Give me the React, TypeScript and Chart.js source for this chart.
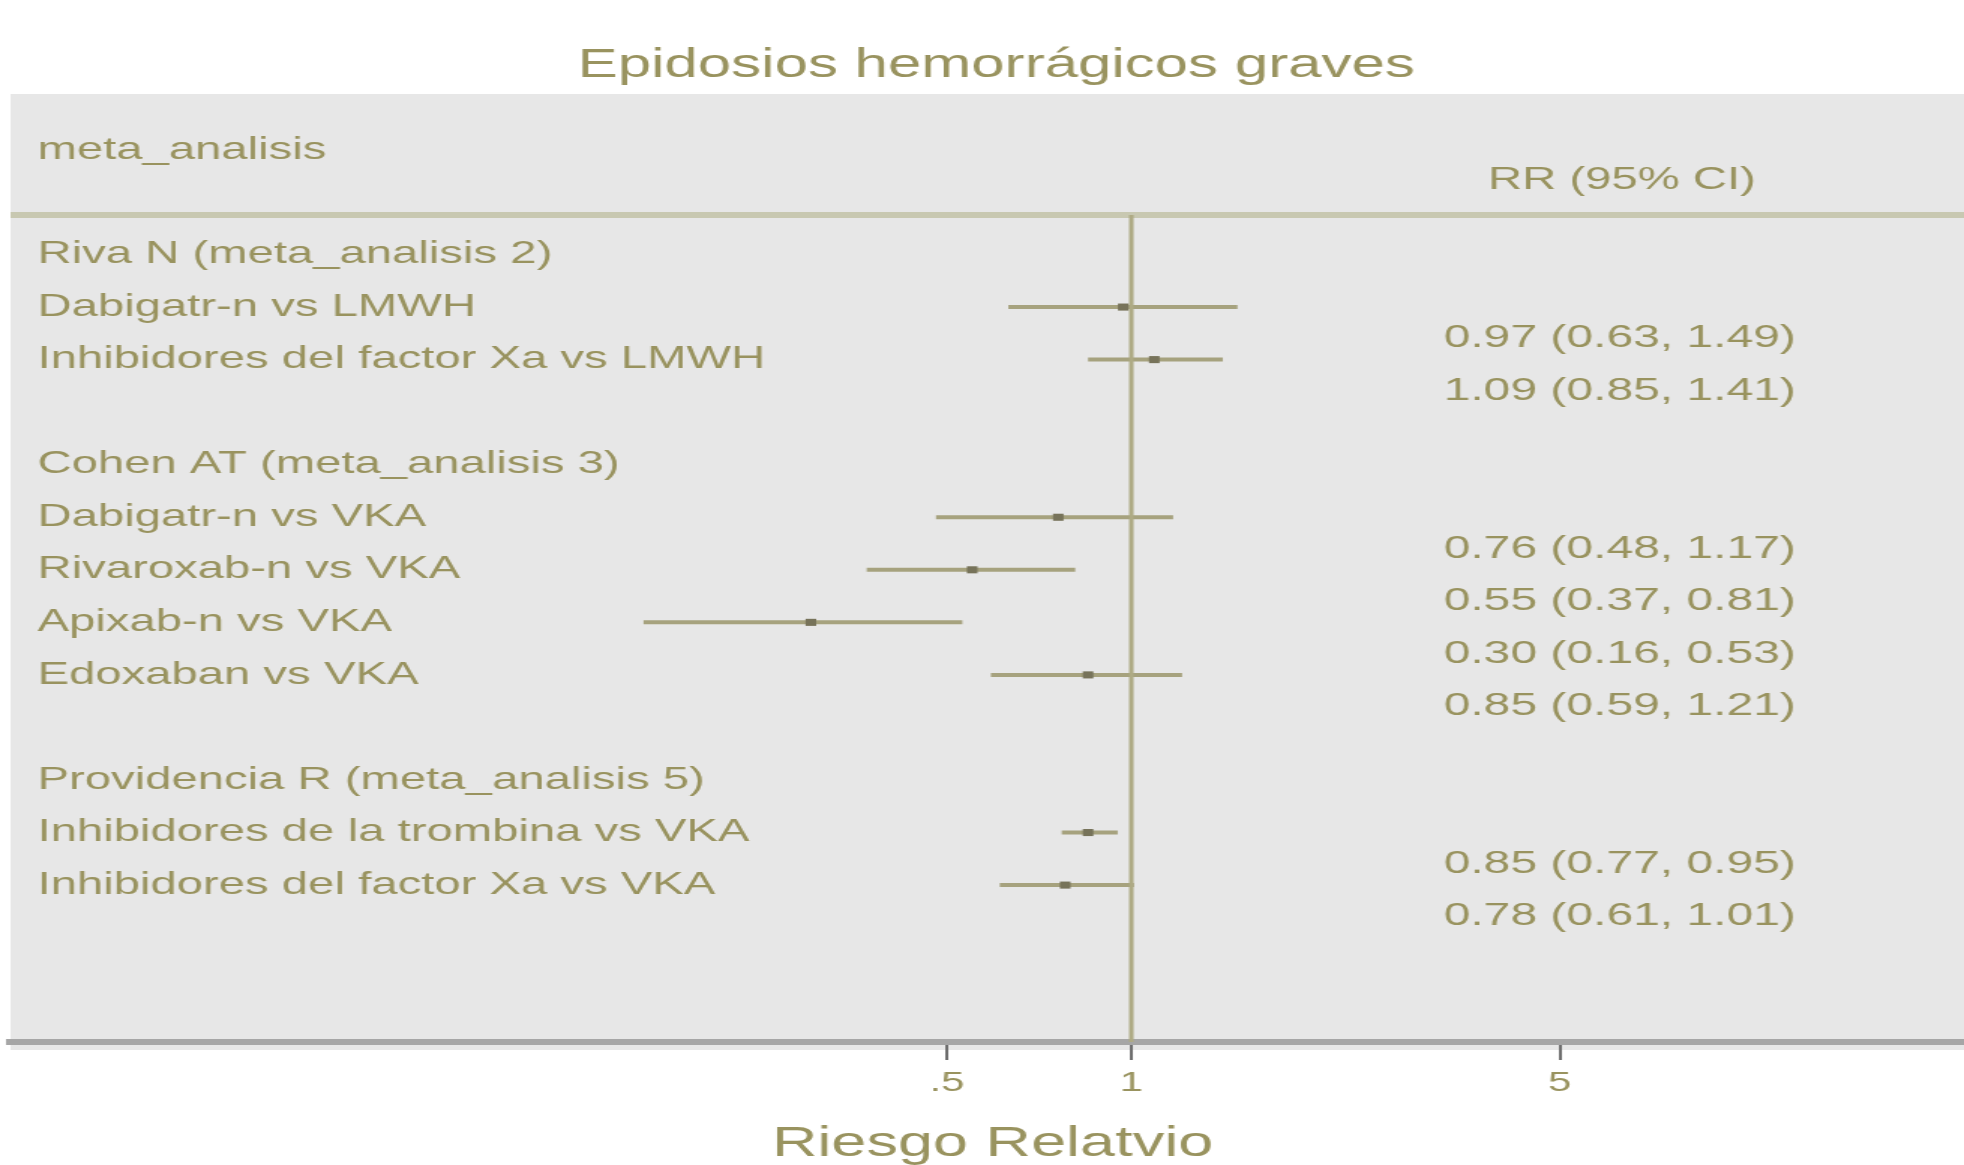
import React, { useEffect, useRef } from 'react';
import { Chart, registerables } from 'chart.js';

Chart.register(...registerables);

// ---------------- data ----------------
const TITLE = 'Epidosios hemorrágicos graves';
const X_TITLE = 'Riesgo Relatvio';
const COL_HEAD_LEFT = 'meta_analisis';
const COL_HEAD_RIGHT = 'RR (95% CI)';

const ROW_LABELS = [
  'Riva N (meta_analisis 2)',
  'Dabigatr-n vs LMWH',
  'Inhibidores del factor Xa vs LMWH',
  '',
  'Cohen AT (meta_analisis 3)',
  'Dabigatr-n vs VKA',
  'Rivaroxab-n vs VKA',
  'Apixab-n vs VKA',
  'Edoxaban vs VKA',
  '',
  'Providencia R (meta_analisis 5)',
  'Inhibidores de la trombina vs VKA',
  'Inhibidores del factor Xa vs VKA',
];

const STUDY_ROWS = [1, 2, 5, 6, 7, 8, 11, 12];
const RR = [0.97, 1.09, 0.76, 0.55, 0.3, 0.85, 0.85, 0.78];
const CI_LOW = [0.63, 0.85, 0.48, 0.37, 0.16, 0.59, 0.77, 0.61];
const CI_HIGH = [1.49, 1.41, 1.17, 0.81, 0.53, 1.21, 0.95, 1.01];

const X_TICKS = [0.5, 1, 5];
const X_TICK_LABELS = ['.5', '1', '5'];
const REF_VALUE = 1;

// ---------------- layout / style ----------------
const SX = 1.5; // horizontal stretch of the whole picture
const W = 1321; // logical canvas width
const H = 1165;
const X_MIN = 0.01483;
const X_MAX = 23.76;
const Y_MIN = -0.752;
const Y_MAX = 14.986;
const CI_TEXT_SHIFT = 0.6;

const FONT = '"Liberation Sans", Arial, Helvetica, sans-serif';
const TEXT = '#99935f';
const PANEL = '#e7e7e7';
const HEADER_LINE = '#c8c8b1';
const CI_COLOR = '#a6a27e';
const MARK_COLOR = '#77735a';
const REF_COLOR = '#aeaa84';
const PANEL_LEFT = 7;
const PANEL_TOP = 94;
const LABEL_X = 25;
const CI_TEXT_RIGHT = 1197;
const HEAD_RIGHT_X = 1081;

const fmt = (v: number) => v.toFixed(2);

const forestPlugin = {
  id: 'forestDecor',
  beforeDraw(chart: any) {
    const { ctx, chartArea } = chart;
    ctx.save();
    ctx.fillStyle = PANEL;
    ctx.fillRect(PANEL_LEFT, PANEL_TOP, chart.width - PANEL_LEFT, chartArea.bottom + 8 - PANEL_TOP);
    ctx.fillStyle = HEADER_LINE;
    ctx.fillRect(PANEL_LEFT, chartArea.top - 3, chart.width - PANEL_LEFT, 6);
    ctx.restore();
  },
  afterDraw(chart: any) {
    const { ctx } = chart;
    const ys = chart.scales.y;
    ctx.save();
    ctx.fillStyle = TEXT;
    ctx.textBaseline = 'middle';
    ctx.font = `31.5px ${FONT}`;
    ctx.textAlign = 'left';
    ctx.fillText(COL_HEAD_LEFT, LABEL_X, 150);
    ctx.textAlign = 'center';
    ctx.fillText(COL_HEAD_RIGHT, HEAD_RIGHT_X, 180);
    ctx.textAlign = 'left';
    ROW_LABELS.forEach((lab, i) => {
      if (lab) ctx.fillText(lab, LABEL_X, ys.getPixelForValue(i));
    });
    ctx.font = `32px ${FONT}`;
    ctx.textAlign = 'right';
    STUDY_ROWS.forEach((row, k) => {
      const s = `${fmt(RR[k])} (${fmt(CI_LOW[k])}, ${fmt(CI_HIGH[k])})`;
      ctx.fillText(s, CI_TEXT_RIGHT, ys.getPixelForValue(row + CI_TEXT_SHIFT));
    });
    ctx.restore();
  },
};

export default function App() {
  const ref = useRef<HTMLCanvasElement>(null);

  useEffect(() => {
    const canvas = ref.current;
    if (!canvas) return;

    const ciSets = STUDY_ROWS.map((row, k) => ({
      type: 'scatter' as const,
      data: [
        { x: CI_LOW[k], y: row },
        { x: CI_HIGH[k], y: row },
      ],
      showLine: true,
      borderColor: CI_COLOR,
      borderWidth: 4,
      pointRadius: 0,
      order: 3,
    }));

    const refSet = {
      type: 'scatter' as const,
      data: [
        { x: REF_VALUE, y: Y_MIN },
        { x: REF_VALUE, y: Y_MAX },
      ],
      showLine: true,
      borderColor: REF_COLOR,
      borderWidth: 3,
      pointRadius: 0,
      order: 2,
    };

    const markSet = {
      type: 'scatter' as const,
      data: STUDY_ROWS.map((row, k) => ({ x: RR[k], y: row })),
      pointStyle: 'rect',
      pointRadius: 5,
      backgroundColor: MARK_COLOR,
      borderColor: MARK_COLOR,
      borderWidth: 0,
      order: 1,
    };

    const chart = new Chart(canvas, {
      type: 'scatter',
      data: { datasets: [markSet, refSet, ...ciSets] as any },
      plugins: [forestPlugin],
      options: {
        animation: false,
        responsive: false,
        devicePixelRatio: 1,
        layout: { padding: { left: PANEL_LEFT, right: 0, top: 0, bottom: 0 } },
        plugins: {
          legend: { display: false },
          tooltip: { enabled: false },
          title: {
            display: true,
            text: TITLE,
            color: TEXT,
            font: { family: FONT, size: 40, weight: 'normal', lineHeight: 1.2 },
            padding: { top: 42, bottom: 125 },
          },
        },
        scales: {
          x: {
            type: 'logarithmic',
            min: X_MIN,
            max: X_MAX,
            bounds: 'data',
            afterBuildTicks: (s: any) => {
              s.ticks = X_TICKS.map((v) => ({ value: v }));
            },
            afterFit: (s: any) => {
              s.height = 123;
            },
            ticks: {
              autoSkip: false,
              maxRotation: 0,
              padding: 6,
              color: TEXT,
              font: { family: FONT, size: 28, lineHeight: 1.2 },
              callback: (_v: any, i: number) => X_TICK_LABELS[i],
            },
            grid: {
              display: true,
              drawOnChartArea: false,
              drawTicks: true,
              tickLength: 18,
              color: '#6e6e6e',
              lineWidth: 2,
            },
            border: { display: true, color: '#a6a6a6', width: 6 },
            title: {
              display: true,
              text: X_TITLE,
              color: TEXT,
              font: { family: FONT, size: 42, lineHeight: 1 },
              padding: 0,
            },
          },
          y: {
            type: 'linear',
            display: false,
            reverse: true,
            min: Y_MIN,
            max: Y_MAX,
          },
        },
      } as any,
    });

    return () => chart.destroy();
  }, []);

  return (
    <div
      style={{
        position: 'absolute',
        left: 0,
        top: 0,
        width: 1964,
        height: H,
        overflow: 'hidden',
        background: '#ffffff',
      }}
    >
      <canvas
        ref={ref}
        width={W}
        height={H}
        style={{ width: `${W * SX}px`, height: `${H}px`, display: 'block' }}
      />
    </div>
  );
}
